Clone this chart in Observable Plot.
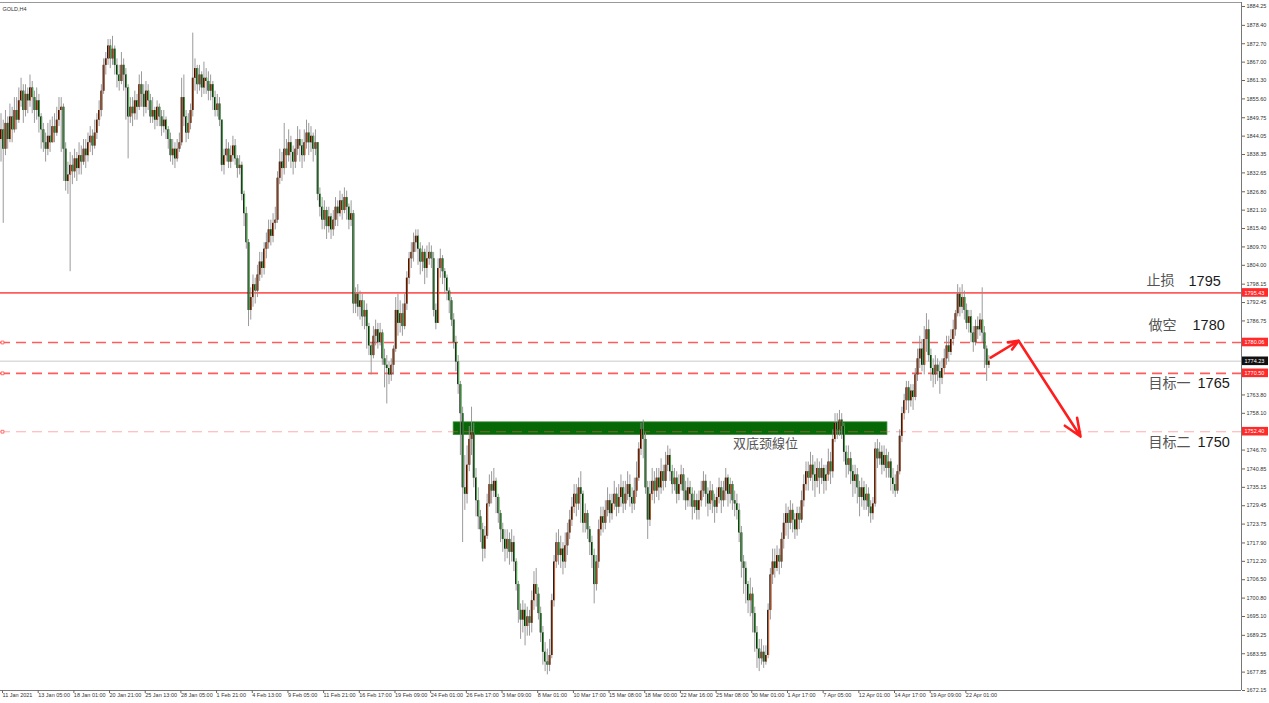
<!DOCTYPE html>
<html><head><meta charset="utf-8">
<script src="https://cdn.jsdelivr.net/npm/d3@7"></script>
<script src="https://cdn.jsdelivr.net/npm/@observablehq/plot@0.6"></script>
<style>
html,body{margin:0;padding:0;background:#fff;overflow:hidden;}
#chart svg{display:block;}
</style></head><body><div id="chart"></div>
<script>
// ---------------- DATA ----------------
const symbolLabel = "GOLD,H4";
const firstOpen = 1843;
const closes = [
1846,1840,1848,1843,1850,1846,1852,1849,1855,1858,
1852,1857,1855,1859,1856,1852,1855,1850,1846,1842,
1840,1844,1842,1847,1845,1849,1852,1853,1840,1830,
1832,1835,1833,1837,1834,1838,1836,1840,1838,1842,1844,1841,1845,
1849,1852,1858,1866,1868,1872,1868,1871,1866,1863,
1861,1866,1863,1859,1850,1853,1851,1855,1853,1860,
1857,1853,1858,1855,1850,1852,1849,1853,1850,1847,1849,1846,
1843,1838,1840,1837,1840,1842,1856,1850,1845,1848,
1852,1862,1865,1860,1863,1859,1862,1861,1858,1860,1856,
1852,1854,1849,1835,1838,1840,1836,1838,1841,1837,
1834,1835,1826,1820,1811,1790,1794,1798,1796,1801,
1805,1803,1809,1811,1815,1813,1817,1818,1831,1836,1834,1840,
1838,1842,1839,1836,1840,1843,1841,1838,1842,1845,1842,1844,1840,1842,
1826,1822,1818,1821,1816,1819,1815,1818,1822,1820,1824,1821,1825,1822,
1818,1820,1792,1795,1791,1793,1788,1790,1785,1779,
1776,1782,1784,1780,1783,1775,1773,1772,1770,1773,1778,1790,1786,
1789,1785,1792,1800,1806,1808,1811,1813,1809,1805,1808,1803,1806,
1808,1806,1790,1786,1803,1806,1802,1800,1796,1793,
1787,1780,1774,1767,1758,1735,1733,1742,1750,1752,1738,1731,1726,
1722,1716,1720,1730,1736,1734,1737,1732,1727,1722,1719,1716,1719,
1715,1718,1712,1705,1697,1694,1697,1692,1695,1693,1700,1705,1702,
1696,1690,1684,1681,1680,1683,1700,1712,1718,1714,1716,1712,1717,
1721,1725,1729,1733,1730,1735,1733,1724,1727,1722,1718,1714,1705,
1712,1722,1726,1724,1728,1731,1727,1730,1733,1729,1732,1735,1730,1733,1736,1732,1730,1734,1738,
1747,1753,1750,1735,1725,1733,1737,1734,1738,1735,1740,
1737,1742,1745,1740,1736,1738,1733,1736,1739,1734,1731,1735,1733,1729,1731,1728,
1731,1734,1737,1733,1730,1734,1731,1729,1732,1735,1731,1734,1738,1733,1736,1731,1730,1728,1721,1712,1710,1705,1700,
1702,1696,1690,1685,1682,1684,1681,1683,1697,1708,1712,1710,1714,1712,1719,1724,1727,
1724,1728,1725,1722,1727,1725,1731,1736,1740,1738,1742,1739,1737,1741,1738,
1741,1737,1739,1743,1740,1750,1755,1753,1756,1754,1746,1742,1744,1740,1737,1739,1735,1732,
1735,1731,1733,1729,1727,1730,1747,1744,1746,1742,1745,1741,1743,1738,
1736,1734,1740,1751,1758,1762,1766,1762,1765,1763,1770,1775,1778,1773,
1781,1784,1776,1772,1770,1773,1771,1769,1772,1775,1779,1777,1781,1784,
1789,1795,1791,1794,1790,1786,1788,1783,1780,1785,1784,1787,1783,1778,1773,1774.23
];
const highs = [
1851,1849,1852,1850,1854,1853,1856,1856,1859,1862,
1860,1860,1859,1863,1861,1858,1859,1857,1851,1848,
1845,1848,1849,1850,1851,1853,1856,1856,1854,1842,
1836,1839,1838,1840,1839,1842,1841,1843,1843,1845,1847,1846,1849,
1851,1855,1860,1868,1870,1874,1874,1875,1872,1868,
1866,1870,1868,1865,1860,1856,1856,1858,1857,1863,
1864,1860,1861,1860,1857,1856,1853,1855,1854,1852,1852,1850,
1847,1845,1843,1842,1843,1845,1862,1863,1852,1851,
1854,1876,1868,1866,1866,1864,1867,1865,1864,1863,1861,
1858,1857,1856,1849,1840,1843,1842,1841,1844,1843,
1838,1838,1836,1827,1822,1812,1797,1801,1800,1804,
1808,1808,1811,1814,1818,1818,1820,1822,1833,1840,1839,1848,
1843,1846,1844,1841,1843,1847,1846,1843,1846,1849,1848,1847,1845,1846,
1840,1828,1825,1824,1822,1822,1820,1821,1825,1824,1827,1826,1828,1827,
1823,1824,1821,1797,1798,1796,1795,1793,1792,1786,
1780,1785,1787,1786,1786,1784,1778,1776,1774,1775,1779,1794,1795,
1793,1792,1795,1802,1808,1811,1814,1815,1815,1811,1810,1809,1810,
1811,1810,1808,1792,1806,1809,1807,1803,1801,1797,
1794,1789,1782,1776,1768,1760,1745,1748,1754,1760,1755,1741,1735,
1728,1724,1723,1733,1739,1740,1741,1738,1733,1728,1724,1722,1722,
1721,1722,1720,1713,1706,1699,1700,1699,1698,1697,1703,1709,1710,
1704,1698,1692,1687,1685,1688,1702,1714,1721,1722,1720,1718,1721,
1724,1728,1732,1736,1736,1738,1740,1734,1730,1728,1723,1720,1716,
1714,1725,1729,1729,1731,1735,1733,1733,1737,1735,1736,1739,1737,1737,1740,1739,1735,1738,1743,
1749,1755,1756,1752,1737,1737,1741,1740,1741,1741,1744,
1742,1746,1748,1747,1742,1741,1740,1739,1742,1741,1737,1738,1737,1735,1734,1733,
1734,1737,1740,1739,1735,1737,1736,1733,1735,1738,1737,1737,1741,1739,1738,1737,1734,1733,1730,1723,1714,1712,1706,
1707,1704,1698,1692,1688,1688,1686,1686,1699,1710,1716,1716,1717,1716,1721,1727,1730,
1729,1731,1730,1727,1729,1729,1734,1739,1743,1743,1746,1745,1743,1744,1743,
1744,1742,1742,1747,1746,1753,1758,1758,1759,1758,1755,1748,1748,1746,1742,1742,1741,1737,
1738,1737,1736,1735,1731,1732,1749,1750,1749,1748,1748,1747,1746,1744,
1741,1739,1742,1753,1760,1764,1768,1768,1767,1767,1772,1778,1782,1781,
1785,1789,1787,1778,1775,1776,1775,1774,1775,1778,1782,1782,1784,1787,
1790,1798,1797,1798,1796,1792,1790,1790,1785,1787,1788,1789,1797,1785,1779,1776
];
const lows = [
1836,1817,1838,1840,1842,1842,1845,1846,1848,1853,
1848,1850,1851,1853,1851,1848,1849,1845,1840,1839,
1836,1838,1839,1842,1842,1844,1847,1839,1830,1827,
1826,1802,1829,1831,1830,1832,1832,1835,1834,1836,1839,1838,1840,
1843,1847,1850,1857,1863,1866,1865,1866,1863,1859,
1858,1860,1858,1849,1837,1848,1847,1849,1849,1852,
1853,1850,1851,1852,1848,1848,1846,1847,1847,1844,1845,1843,
1840,1836,1835,1834,1836,1839,1841,1847,1842,1843,
1846,1850,1858,1857,1858,1856,1857,1857,1855,1855,1852,
1850,1850,1847,1833,1832,1836,1834,1834,1836,1835,
1831,1832,1824,1816,1809,1785,1787,1791,1792,1794,
1799,1800,1801,1806,1809,1810,1811,1815,1817,1829,1830,1832,
1834,1836,1834,1832,1834,1838,1836,1834,1836,1840,1838,1839,1836,1838,
1824,1819,1815,1815,1812,1814,1812,1813,1816,1816,1819,1818,1820,1818,
1815,1816,1789,1789,1788,1787,1785,1784,1778,1776,
1770,1775,1779,1778,1779,1773,1766,1761,1767,1768,1770,1777,1782,
1783,1782,1784,1790,1798,1803,1805,1808,1804,1801,1802,1798,1800,
1804,1803,1788,1784,1786,1800,1798,1795,1793,1789,
1785,1778,1771,1764,1745,1718,1728,1730,1740,1745,1735,1726,1722,
1718,1712,1713,1719,1729,1730,1732,1727,1724,1718,1715,1712,1713,
1711,1712,1709,1703,1693,1688,1690,1686,1689,1689,1690,1697,1698,
1694,1687,1680,1678,1677,1678,1682,1698,1710,1711,1710,1708,1710,
1714,1719,1723,1727,1726,1728,1724,1721,1721,1719,1714,1710,1699,
1703,1710,1720,1721,1722,1726,1724,1725,1728,1726,1727,1729,1727,1728,1731,1729,1727,1728,1732,
1737,1745,1744,1733,1719,1723,1731,1730,1732,1731,1733,
1734,1735,1740,1737,1733,1734,1730,1731,1734,1731,1728,1729,1729,1725,1727,1725,
1725,1729,1732,1729,1726,1728,1727,1724,1727,1730,1727,1729,1731,1729,1730,1728,1726,1725,1718,1707,1702,1699,1696,
1695,1690,1684,1679,1678,1680,1679,1680,1682,1694,1705,1707,1709,1708,1710,1716,1720,
1719,1722,1721,1719,1720,1722,1724,1729,1734,1734,1737,1734,1732,1735,1733,
1736,1733,1734,1737,1736,1738,1749,1750,1751,1750,1743,1738,1739,1736,1732,1733,1730,1726,
1729,1728,1728,1726,1724,1725,1729,1741,1742,1739,1740,1738,1738,1734,
1733,1732,1733,1739,1749,1756,1759,1758,1760,1759,1762,1768,1772,1771,
1770,1777,1774,1768,1766,1767,1768,1764,1767,1770,1773,1774,1776,1779,
1782,1788,1788,1789,1787,1784,1783,1780,1777,1779,1781,1782,1780,1772,1768,1772
];
const timeLabels = ["11 Jan 2021","13 Jan 05:00","18 Jan 01:00","20 Jan 21:00","25 Jan 13:00","28 Jan 05:00",
"1 Feb 21:00","4 Feb 13:00","9 Feb 05:00","11 Feb 21:00","16 Feb 17:00","19 Feb 09:00","24 Feb 01:00",
"26 Feb 17:00","3 Mar 09:00","8 Mar 01:00","10 Mar 17:00","15 Mar 08:00","18 Mar 00:00","22 Mar 16:00",
"25 Mar 08:00","30 Mar 01:00","1 Apr 17:00","7 Apr 05:00","12 Apr 01:00","14 Apr 17:00","19 Apr 09:00","22 Apr 01:00"];
const barsPerLabel = 16;
const priceTicks = [1884.25,1878.40,1872.70,1867.00,1861.30,1855.60,1849.75,1844.05,1838.35,1832.65,1826.80,
1821.10,1815.40,1809.70,1804.00,1798.15,1792.45,1786.75,1781.05,1775.35,1769.50,1763.80,1758.10,1752.40,
1746.70,1740.85,1735.15,1729.45,1723.75,1717.90,1712.20,1706.50,1700.80,1695.10,1689.25,1683.55,1677.85,1672.15];
const levelPrices = [1795.43, 1780.06, 1770.50, 1752.40];
const levelKinds = ["stop", "entry", "target", "neck"];
const lastPrice = 1774.23;
const noteNames = ["止损", "做空", "目标一", "目标二"];
const noteValues = ["1795", "1780", "1765", "1750"];
const neckName = "双底颈線位";
const neckZone = {bar0: 203, bar1: 397.5, low: 1751.4, high: 1755.3};
const planBars = [443.8, 456.3, 484.1];
const planPrices = [1775.4, 1780.6, 1750.9];

// ---------------- BUILD ----------------
const W = 1269, H = 703, mR = 28, mT = 2, mB = 13;
const barPx = 2.23;
const xLeft = -0.5 / barPx;
const xRight = xLeft + (W - mR) / barPx;
const pxToBar = px => xLeft + px / barPx;
const yMin = 1672.15, yMax = 1885.49;
const pxPerPrice = (H - mT - mB) / (yMax - yMin);

const bars = closes.map((c, i) => {
  const o = i ? closes[i - 1] : firstOpen;
  return {i, o, c, h: Math.max(highs[i], o, c), l: Math.min(lows[i], o, c), up: c >= o};
});
const bodyLo = d => Math.min(d.o, d.c);
const bodyHi = d => Math.max(d.o, d.c, Math.min(d.o, d.c) + 0.35);

const levels = levelPrices.map((p, k) => ({price: p, kind: levelKinds[k], label: p.toFixed(2)}));
const stopLevel = levels.filter(d => d.kind === "stop");
const dashLevels = levels.filter(d => d.kind === "entry" || d.kind === "target");
const neckLevel = levels.filter(d => d.kind === "neck");
const legs = planBars.slice(1).map((b, k) => ({x1: planBars[k], y1: planPrices[k], x2: b, y2: planPrices[k + 1]}));
const tickBars = timeLabels.map((_, k) => k * barsPerLabel);

const boxes = [...levels.map(d => ({price: d.price, label: d.label, fill: "#ff2a2a"})),
               {price: lastPrice, label: lastPrice.toFixed(2), fill: "#111"}];
const boxHalf = 4.3 / pxPerPrice;
// tick labels hidden under the price boxes are not printed (as in the terminal)
const labelTicks = priceTicks.filter(t => boxes.every(b => Math.abs(b.price - t) * pxPerPrice > 4.5));

const cnFont = "'Noto Sans CJK SC', 'Noto Sans', sans-serif";
const numFont = "'Liberation Sans', Arial, sans-serif";
const noteDy = [-12, -17, 10, 11];
const cnPx = [1146, 1148, 1148, 1148];
const numPx = [1188, 1192, 1197, 1197];

const noteMarks = noteNames.flatMap((n, k) => [
  Plot.text([{t: n, p: levelPrices[k]}], {x: () => pxToBar(cnPx[k]), y: "p", text: "t", dy: noteDy[k], textAnchor: "start",
    fontSize: 14, fontFamily: cnFont, fill: "#555"}),
  Plot.text([{t: noteValues[k], p: levelPrices[k]}], {x: () => pxToBar(numPx[k]), y: "p", text: "t", dy: noteDy[k], textAnchor: "start",
    fontSize: 14.5, fontFamily: numFont, fill: "#1a1a1a"})
]);

const chart = Plot.plot({
  width: W, height: H,
  marginLeft: 0, marginRight: mR, marginTop: mT, marginBottom: mB,
  style: {fontFamily: numFont, fontSize: "5.5px", background: "#fff", color: "#333"},
  x: {type: "linear", domain: [xLeft, xRight], axis: null},
  y: {type: "linear", domain: [yMin, yMax], axis: null},
  marks: [
    Plot.rect([neckZone], {x1: "bar0", x2: "bar1", y1: "low", y2: "high", fill: "#066806", stroke: "#3a8a3a", strokeWidth: 0.8}),
    Plot.ruleY([lastPrice], {stroke: "#dcdcdc", strokeWidth: 1.6}),
    Plot.ruleY(stopLevel, {y: "price", stroke: "#ff5c5c", strokeWidth: 1.7}),
    Plot.ruleY(dashLevels, {y: "price", stroke: "#ff5c5c", strokeWidth: 1.7, strokeDasharray: "10,6"}),
    Plot.ruleY(neckLevel, {y: "price", stroke: "#ff5c5c", strokeOpacity: 0.5, strokeWidth: 1.1, strokeDasharray: "10,6"}),
    Plot.dot(levels.filter(d => d.kind !== "stop"), {x: () => pxToBar(2), y: "price", symbol: "square", r: 1.6,
      stroke: "#ff4d4d", fill: "#fff", strokeWidth: 0.8}),
    Plot.ruleX(bars, {x: "i", y1: "l", y2: "h", stroke: "#8e8e8e", strokeWidth: 0.9}),
    Plot.ruleX(bars, {x: "i", y1: bodyLo, y2: bodyHi, stroke: "#121212", strokeWidth: 2}),
    Plot.ruleX(bars, {x: "i", y1: bodyLo, y2: bodyHi, stroke: d => d.up ? "#ec6a2e" : "#52cc52", strokeWidth: 0.9, dx: 0.4}),
    Plot.ruleY([yMin], {stroke: "#777", strokeWidth: 1}),
    Plot.ruleY([yMax], {stroke: "#999", strokeWidth: 1}),
    Plot.ruleX([xRight], {stroke: "#777", strokeWidth: 1}),
    Plot.axisY({anchor: "right", ticks: priceTicks, tickFormat: () => "", tickSize: 3, stroke: "#666"}),
    Plot.axisY({anchor: "right", ticks: labelTicks, tickFormat: d => d.toFixed(2), tickSize: 0, tickPadding: 5,
      fontSize: 5.5, fill: "#333"}),
    Plot.axisX({anchor: "bottom", ticks: tickBars, tickFormat: d => timeLabels[d / barsPerLabel], tickSize: 3,
      tickPadding: 0, textAnchor: "start", dx: 1.5, fontSize: 5.5, stroke: "#666", fill: "#333"}),
    Plot.rect(boxes, {x1: () => pxToBar(W - mR + 1), x2: () => pxToBar(W - 1), y1: d => d.price - boxHalf,
      y2: d => d.price + boxHalf, fill: "fill"}),
    Plot.text(boxes, {x: () => pxToBar(W - mR + 3), y: "price", text: "label", textAnchor: "start", fill: "#fff",
      fontSize: 5.5}),
    Plot.text([{t: neckName, p: neckZone.low}], {x: () => 342.8, y: "p", text: "t", dy: 9, fontSize: 13,
      fontFamily: cnFont, fill: "#555"}),
    ...noteMarks,
    Plot.arrow(legs, {x1: "x1", y1: "y1", x2: "x2", y2: "y2", stroke: "#ff1e1e", strokeWidth: 2.6, headLength: 11,
      headAngle: 45}),
    Plot.text([symbolLabel], {frameAnchor: "top-left", dx: 2, dy: 5, textAnchor: "start", fontSize: 5.5, fill: "#333"})
  ]
});
document.getElementById("chart").appendChild(chart);
</script></body></html>
